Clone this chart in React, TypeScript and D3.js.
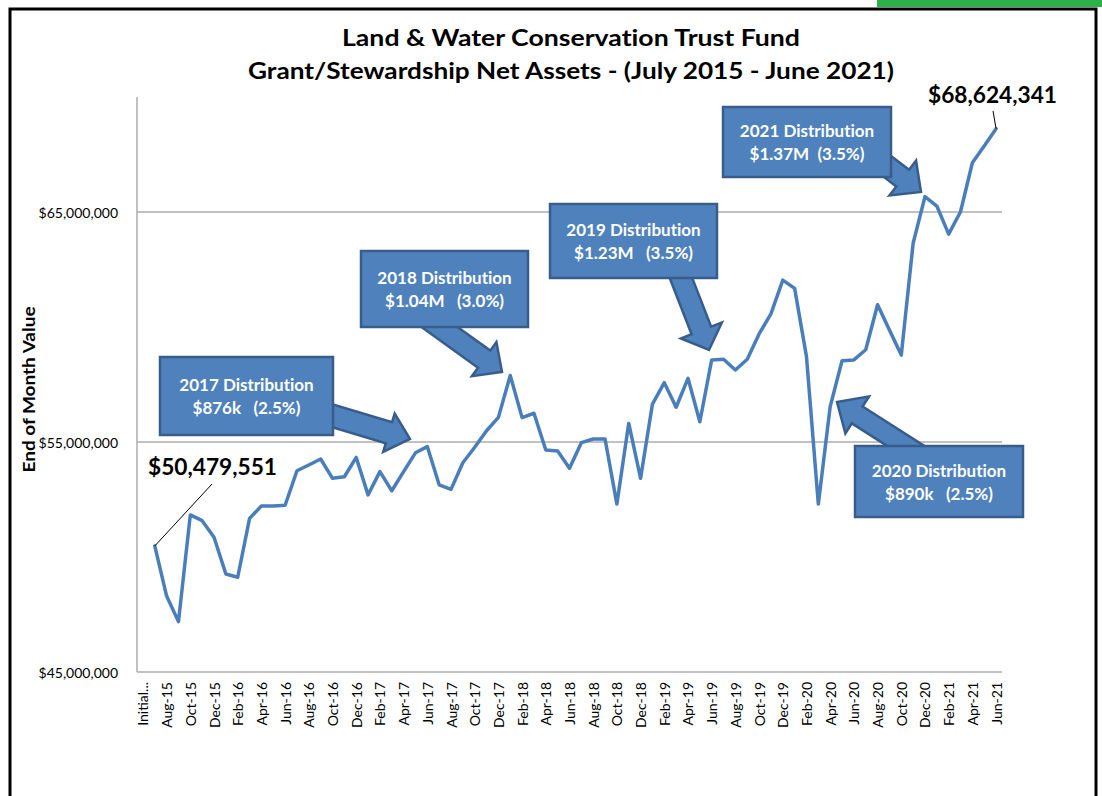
import * as d3 from 'd3';

// month categories, the first one is the opening balance slot
const months = [
  'Initial...',
  'Jul-15', 'Aug-15', 'Sep-15', 'Oct-15', 'Nov-15', 'Dec-15',
  'Jan-16', 'Feb-16', 'Mar-16', 'Apr-16', 'May-16', 'Jun-16', 'Jul-16', 'Aug-16', 'Sep-16', 'Oct-16', 'Nov-16', 'Dec-16',
  'Jan-17', 'Feb-17', 'Mar-17', 'Apr-17', 'May-17', 'Jun-17', 'Jul-17', 'Aug-17', 'Sep-17', 'Oct-17', 'Nov-17', 'Dec-17',
  'Jan-18', 'Feb-18', 'Mar-18', 'Apr-18', 'May-18', 'Jun-18', 'Jul-18', 'Aug-18', 'Sep-18', 'Oct-18', 'Nov-18', 'Dec-18',
  'Jan-19', 'Feb-19', 'Mar-19', 'Apr-19', 'May-19', 'Jun-19', 'Jul-19', 'Aug-19', 'Sep-19', 'Oct-19', 'Nov-19', 'Dec-19',
  'Jan-20', 'Feb-20', 'Mar-20', 'Apr-20', 'May-20', 'Jun-20', 'Jul-20', 'Aug-20', 'Sep-20', 'Oct-20', 'Nov-20', 'Dec-20',
  'Jan-21', 'Feb-21', 'Mar-21', 'Apr-21', 'May-21', 'Jun-21',
];

const netAssets: (number | null)[] = [
  null,
  50479551, 48300000, 47190000, 51830000, 51580000, 50860000,
  49260000, 49120000, 51680000, 52220000, 52220000, 52250000, 53750000, 54000000, 54260000, 53420000, 53490000, 54330000,
  52700000, 53710000, 52880000, 53710000, 54530000, 54800000, 53140000, 52940000, 54100000, 54770000, 55490000, 56070000,
  57890000, 56060000, 56250000, 54650000, 54610000, 53860000, 54970000, 55130000, 55130000, 52300000, 55810000, 53420000,
  56650000, 57580000, 56510000, 57770000, 55880000, 58570000, 58600000, 58130000, 58600000, 59700000, 60570000, 62040000,
  61680000, 58710000, 52300000, 56540000, 58530000, 58570000, 59010000, 60970000, 59870000, 58780000, 63640000, 65670000,
  65260000, 64040000, 65010000, 67140000, 67870000, 68624341,
];

const yTicks = [45000000, 55000000, 65000000];
const gridTicks = [55000000, 65000000];

const titleLines = ['Land & Water Conservation Trust Fund', 'Grant/Stewardship Net Assets - (July 2015 - June 2021)'];

const calloutTitles = ['2017 Distribution', '2018 Distribution', '2019 Distribution', '2021 Distribution', '2020 Distribution'];
const calloutAmounts = ['$876k   (2.5%)', '$1.04M   (3.0%)', '$1.23M   (3.5%)', '$1.37M  (3.5%)', '$890k   (2.5%)'];

const FONT = 'Lato, "Open Sans", sans-serif';
const BLUE = '#4F81BD';
const BLUE_DARK = '#385D8A';
const noLig = { fontVariantLigatures: 'none' as const };

// box + arrow layout for each callout
const calloutLayout = [
  { box: [160, 357, 173, 78], from: [300, 406], to: [410, 439], hl: 22, hw: 20, sw: 11 },
  { box: [361, 251, 167, 76], from: [420, 313], to: [502, 372], hl: 22, hw: 21, sw: 10.5 },
  { box: [550, 204, 167, 74], from: [672, 255], to: [709, 350], hl: 21, hw: 22, sw: 10.5 },
  { box: [723, 107, 168, 70], from: [862, 147], to: [921, 192], hl: 23, hw: 22, sw: 10.5 },
  { box: [855, 446, 168, 71], from: [920, 455], to: [837, 402], hl: 24, hw: 22, sw: 10 },
];

function arrowPath(from: number[], to: number[], hl: number, hw: number, sw: number) {
  const dx = to[0] - from[0];
  const dy = to[1] - from[1];
  const len = Math.hypot(dx, dy);
  const ux = dx / len, uy = dy / len;
  const nx = -uy, ny = ux;
  const bx = to[0] - ux * hl, by = to[1] - uy * hl;
  const p = d3.path();
  p.moveTo(from[0] + nx * sw, from[1] + ny * sw);
  p.lineTo(bx + nx * sw, by + ny * sw);
  p.lineTo(bx + nx * hw, by + ny * hw);
  p.lineTo(to[0], to[1]);
  p.lineTo(bx - nx * hw, by - ny * hw);
  p.lineTo(bx - nx * sw, by - ny * sw);
  p.lineTo(from[0] - nx * sw, from[1] - ny * sw);
  p.closePath();
  return p.toString();
}

export default function App() {
  const left = 137, right = 1002, top = 97, bottom = 672;

  const x = d3.scaleBand<string>().domain(months).range([left, right]);
  const y = d3.scaleLinear().domain([45000000, 70000000]).range([bottom, top]);
  const xc = (m: string) => (x(m) ?? 0) + x.bandwidth() / 2;

  const line = d3
    .line<number | null>()
    .defined((d) => d != null)
    .x((_, i) => xc(months[i]))
    .y((d) => y(d as number));

  const fmt = d3.format('$,.0f');
  const firstIdx = 1;
  const lastIdx = months.length - 1;
  const firstPt = [xc(months[firstIdx]), y(netAssets[firstIdx] as number)];
  const lastPt = [xc(months[lastIdx]), y(netAssets[lastIdx] as number)];

  return (
    <svg width={1102} height={796} style={{ position: 'absolute', left: 0, top: 0, background: '#fff' }}>
      <rect x={877} y={0} width={225} height={7} fill="#2EB14A" />
      <rect x={10} y={9} width={1086} height={800} fill="none" stroke="#000" strokeWidth={3} />

      {titleLines.map((t, i) => (
        <text key={t} x={571} y={46 + i * 33} textAnchor="middle" fontFamily={FONT} fontWeight="bold"
          fontSize={23} textLength={i === 0 ? 458 : 646} lengthAdjust="spacingAndGlyphs" fill="#000" style={noLig}>
          {t}
        </text>
      ))}

      {/* gridlines and axes */}
      {gridTicks.map((t) => (
        <line key={t} x1={left} x2={right} y1={y(t)} y2={y(t)} stroke="#ADADAD" strokeWidth={1.5} />
      ))}
      <line x1={left} x2={left} y1={top} y2={bottom} stroke="#ADADAD" strokeWidth={1.5} />
      <line x1={left} x2={right} y1={bottom} y2={bottom} stroke="#ADADAD" strokeWidth={1.5} />
      {yTicks.map((t) => (
        <text key={t} x={118} y={y(t)} textAnchor="end" dominantBaseline="central" fontFamily={FONT}
          fontSize={14} fill="#000">
          {fmt(t)}
        </text>
      ))}
      <text transform={`translate(28, ${(top + bottom) / 2 + 5}) rotate(-90)`} textAnchor="middle"
        dominantBaseline="central" fontFamily={FONT} fontWeight="bold" fontSize={17} textLength={166}
        lengthAdjust="spacingAndGlyphs" fill="#000">
        End of Month Value
      </text>

      {months.map((m, i) =>
        i % 2 === 0 ? (
          <text key={m} transform={`translate(${xc(m)}, 682) rotate(-90)`} textAnchor="end"
            dominantBaseline="central" fontFamily={FONT} fontSize={14} fill="#000">
            {m}
          </text>
        ) : null
      )}

      <path d={line(netAssets) ?? ''} fill="none" stroke="#4A7EBB" strokeWidth={3.5}
        strokeLinejoin="round" strokeLinecap="round" />

      {/* first / last value labels */}
      <line x1={firstPt[0]} y1={firstPt[1]} x2={212} y2={484} stroke="#000" strokeWidth={1} />
      <text x={148} y={475} fontFamily={FONT} fontWeight="bold" fontSize={23} textLength={129}
        lengthAdjust="spacingAndGlyphs" fill="#000">
        {fmt(netAssets[firstIdx] as number)}
      </text>
      <line x1={lastPt[0]} y1={lastPt[1]} x2={993} y2={111} stroke="#000" strokeWidth={1} />
      <text x={928} y={103} fontFamily={FONT} fontWeight="bold" fontSize={23} textLength={129}
        lengthAdjust="spacingAndGlyphs" fill="#000">
        {fmt(netAssets[lastIdx] as number)}
      </text>

      {/* distribution callouts */}
      {calloutLayout.map((c, i) => {
        const [bx, by, bw, bh] = c.box;
        const cx = bx + bw / 2;
        const cy = by + bh / 2;
        return (
          <g key={calloutTitles[i]}>
            <path d={arrowPath(c.from, c.to, c.hl, c.hw, c.sw)} fill={BLUE} stroke={BLUE_DARK}
              strokeWidth={2.5} strokeLinejoin="miter" />
            <rect x={bx} y={by} width={bw} height={bh} fill={BLUE} stroke={BLUE_DARK} strokeWidth={2.5} />
            <text x={cx} y={cy - 5} textAnchor="middle" fontFamily={FONT} fontWeight="bold" fontSize={17}
              fill="#fff" style={{ whiteSpace: 'pre', ...noLig }}>
              {calloutTitles[i]}
            </text>
            <text x={cx} y={cy + 18} textAnchor="middle" fontFamily={FONT} fontWeight="bold" fontSize={17}
              fill="#fff" style={{ whiteSpace: 'pre', ...noLig }}>
              {calloutAmounts[i]}
            </text>
          </g>
        );
      })}
    </svg>
  );
}
